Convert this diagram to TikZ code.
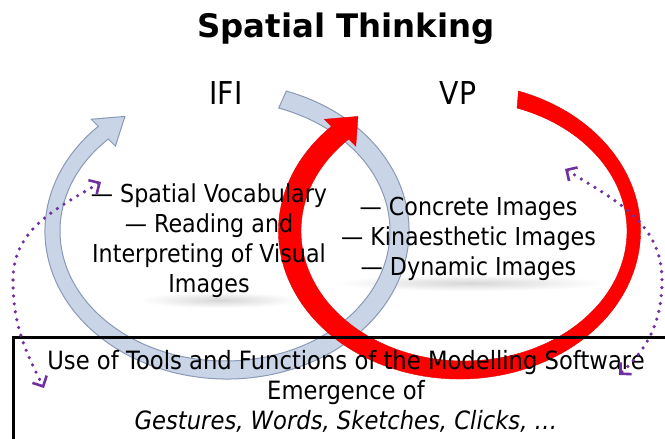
\documentclass[tikz,border=0pt]{standalone}
\usepackage{fontspec}
\setmainfont{DejaVu Sans}[FakeStretch=0.9]
\newfontfamily\titlefont{DejaVu Sans}
\usetikzlibrary{calc,arrows.meta}
\definecolor{ringblue}{HTML}{C9D4E7}
\definecolor{ringedge}{HTML}{8A9AB4}
\definecolor{ringred}{HTML}{FF0000}
\definecolor{dotpurple}{HTML}{7030A0}
\begin{document}
\begin{tikzpicture}[x=1pt,y=1pt,
  bodytext/.style={font=\fontsize{24.7}{30}\selectfont, align=center, inner sep=0pt, anchor=base},
  boxtext/.style={font=\fontsize{25.2}{30}\selectfont, align=center, inner sep=0pt, anchor=base},
  headtext/.style={font=\fontsize{31.5}{36}\selectfont, inner sep=0pt, anchor=base},
  titletext/.style={font=\titlefont\bfseries\fontsize{32.4}{38}\selectfont, inner sep=0pt, anchor=base},
  dotarrow/.style={dotpurple, line width=3.6pt, line cap=round, dash pattern=on 0pt off 8pt,
     arrows={Straight Barb[length=8pt,width=16pt,line width=2.6pt]-Straight Barb[length=8pt,width=16pt,line width=2.6pt]}},
  shadowblob/.style={inner color=black!16, outer color=white}
]
\useasboundingbox (0,0) rectangle (665,439);
\fill[white] (0,0) rectangle (665,439);

% soft shadows
\shade[shadowblob] (220,139) ellipse[x radius=80pt, y radius=8pt];
\shade[shadowblob] (470,156) ellipse[x radius=135pt, y radius=8pt];

\coordinate (cb) at (227,208);
\coordinate (cbi) at (225,208);
\coordinate (tipb) at (125,322.6);
\coordinate (cr) at (459.5,208);
\coordinate (cri) at (464,208);
\coordinate (tipr) at (358,322.6);

% blue ring arrow
\fill[ringblue, draw=ringedge, line width=1pt]
  ($(cb)+(71:182pt and 148pt)$) arc[start angle=71, end angle=-225, x radius=182pt, y radius=148pt]
  -- ($(cb)+(135:192pt and 158pt)$) -- (tipb) -- ($(cbi)+(135:155pt and 120pt)$)
  -- ($(cbi)+(135:165pt and 130pt)$) arc[start angle=-225, end angle=71, x radius=165pt, y radius=130pt]
  -- cycle;

% red ring arrow
\fill[ringred, draw=ringred!88!black, line width=0.4pt]
  ($(cr)+(71:181pt and 148pt)$) arc[start angle=71, end angle=-225, x radius=181pt, y radius=148pt]
  -- ($(cr)+(135:191pt and 158pt)$) -- (tipr) -- ($(cri)+(135:153pt and 120pt)$)
  -- ($(cri)+(135:163pt and 130pt)$) arc[start angle=-225, end angle=71, x radius=163pt, y radius=130pt]
  -- cycle;

% bottom box
\coordinate (bxl) at (13,-5);
\coordinate (bxc) at (13,101);
\coordinate (bxr) at (672,101);
\draw[line width=3pt] (bxl) -- (bxc) -- (bxr);

% texts
\node[titletext] (title) at (346,401) {Spatial Thinking};
\node[headtext] (ifi) at (226,334) {IFI};
\node[headtext] (vp) at (458,334) {VP};
\node[bodytext] (left) at (209,146) {— Spatial Vocabulary\\— Reading and\\Interpreting of Visual\\Images};
\node[bodytext] (right) at (468.5,163) {— Concrete Images\\— Kinaesthetic Images\\— Dynamic Images};
\node[boxtext] (bottom) at (346,9) {Use of Tools and Functions of the Modelling Software\\Emergence of\\\textit{Gestures, Words, Sketches, Clicks, …}};

% dotted double arrows
\coordinate (la) at (101,257);
\coordinate (lm) at (13,159);
\coordinate (lb) at (44,51);
\draw[dotarrow] (la) to[out=211,in=90] (lm) to[out=-90,in=117] (lb);
\coordinate (ra) at (565,270);
\coordinate (rm) at (662,159);
\coordinate (rb) at (619,64);
\draw[dotarrow] (ra) to[out=-32,in=90] (rm) to[out=-90,in=43] (rb);
\end{tikzpicture}
\end{document}
